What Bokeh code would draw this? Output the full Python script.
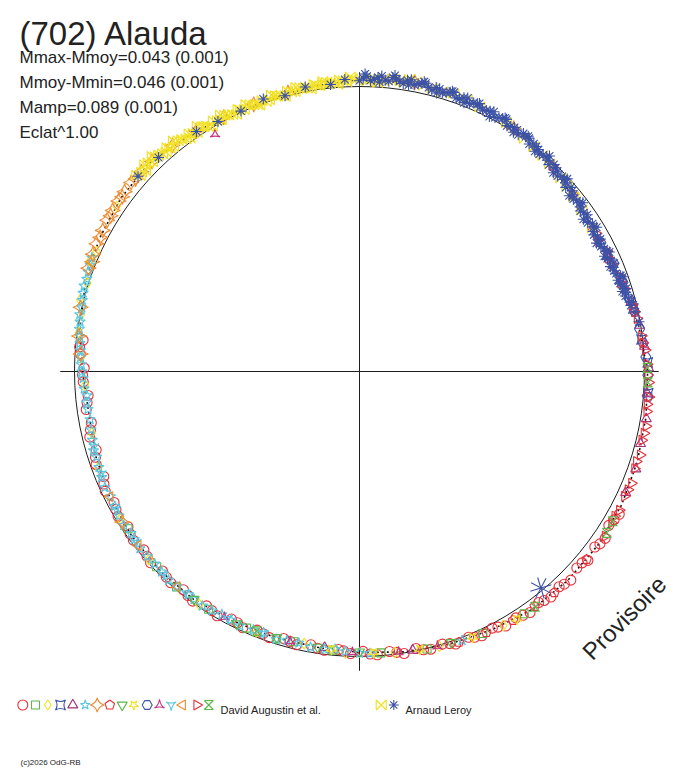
import numpy as np
from bokeh.plotting import figure
from bokeh.models import Range1d, Label
from bokeh.embed import file_html
from bokeh.resources import INLINE

# ---------------- texts ----------------
TITLE = "(702) Alauda"
STATS = ["Mmax-Mmoy=0.043 (0.001)", "Mmoy-Mmin=0.046 (0.001)",
         "Mamp=0.089 (0.001)", "Eclat^1.00"]
OBSERVER_1 = "David Augustin et al."
OBSERVER_2 = "Arnaud Leroy"
FOOTER = "(c)2026 OdG-RB"
WATERMARK = "Provisoire"

# ---------------- fitted curve (phase, relative magnitude) ----------------
fit_phase = [0.000, 0.025, 0.050, 0.075, 0.100, 0.125, 0.150, 0.175, 0.200, 0.225,
             0.250, 0.275, 0.300, 0.325, 0.350, 0.375, 0.400, 0.425, 0.450, 0.475,
             0.500, 0.525, 0.550, 0.575, 0.600, 0.625, 0.650, 0.675, 0.700, 0.725,
             0.750, 0.775, 0.800, 0.825, 0.850, 0.875, 0.900, 0.925, 0.950, 0.975]
fit_mag = [-0.025, -0.032, -0.025, -0.018, -0.004, 0.018, 0.035, 0.042, 0.028, 0.007,
           -0.011, -0.018, -0.025, -0.032, -0.035, -0.035, -0.032, -0.018, -0.007, 0.004,
           0.014, 0.021, 0.021, 0.018, 0.011, 0.011, 0.014, 0.018, 0.028, 0.039,
           0.028, 0.007, -0.011, -0.025, -0.035, -0.039, -0.021, -0.011, -0.007, -0.014]

# ---------------- observations: Arnaud Leroy ----------------
ley_yel_phase = [0.865, 0.868, 0.872, 0.876, 0.879, 0.883, 0.887, 0.890, 0.894, 0.898,
                 0.901, 0.905, 0.909, 0.912, 0.916, 0.920, 0.923, 0.927, 0.931, 0.934,
                 0.938, 0.942, 0.945, 0.949, 0.953, 0.956, 0.960, 0.964, 0.967, 0.971,
                 0.975, 0.978, 0.982, 0.986, 0.989, 0.993, 0.996,
                 0.004, 0.008, 0.013, 0.018, 0.024, 0.031, 0.040, 0.052, 0.068, 0.085,
                 0.098, 0.112, 0.128, 0.141,
                 0.866, 0.874, 0.881, 0.888, 0.896,
                 0.903, 0.910, 0.918, 0.925, 0.932, 0.940, 0.947, 0.954, 0.962, 0.969,
                 0.976, 0.984, 0.991, 0.998, 0.006, 0.015, 0.022, 0.035, 0.046, 0.060,
                 0.105, 0.118, 0.134, 0.150, 0.162,
                 0.870, 0.878, 0.885, 0.892, 0.900,
                 0.907, 0.914, 0.921, 0.929, 0.936, 0.943, 0.951, 0.958, 0.965, 0.973,
                 0.980, 0.988, 0.995, 0.010, 0.027]
ley_yel_mag = [-0.042, -0.036, -0.046, -0.034, -0.040, -0.030, -0.036, -0.024, -0.030, -0.018,
               -0.026, -0.014, -0.022, -0.010, -0.018, -0.008, -0.016, -0.006, -0.014, -0.004,
               -0.012, -0.002, -0.010, -0.004, -0.012, -0.006, -0.016, -0.008, -0.018, -0.010,
               -0.020, -0.012, -0.022, -0.016, -0.026, -0.018, -0.028,
               -0.020, -0.030, -0.024, -0.034, -0.028, -0.036, -0.026, -0.030, -0.020, -0.014,
               -0.002, 0.006, 0.020, 0.030,
               -0.032, -0.042, -0.036, -0.028, -0.026,
               -0.020, -0.018, -0.012, -0.010, -0.008, -0.006, -0.002, -0.008, -0.010, -0.014,
               -0.016, -0.018, -0.022, -0.024, -0.026, -0.028, -0.030, -0.030, -0.024, -0.026,
               0.002, 0.012, 0.024, 0.036, 0.040,
               -0.030, -0.048, -0.026, -0.040, -0.012,
               -0.032, -0.004, -0.024, 0.000, -0.018, 0.002, -0.018, 0.000, -0.022, -0.006,
               -0.026, -0.010, -0.034, -0.016, -0.040]
ley_blu_phase = [0.002, 0.006, 0.010, 0.014, 0.018, 0.022, 0.026, 0.030, 0.034, 0.038,
                 0.042, 0.046, 0.050, 0.054, 0.058, 0.062, 0.066, 0.070, 0.074, 0.078,
                 0.082, 0.086, 0.090, 0.094, 0.098, 0.102, 0.106, 0.110, 0.114, 0.118,
                 0.122, 0.126, 0.130, 0.134, 0.138, 0.142, 0.146, 0.150, 0.154, 0.158,
                 0.162, 0.166, 0.170, 0.174, 0.178, 0.182, 0.186, 0.190, 0.194, 0.198,
                 0.202, 0.206, 0.210,
                 0.000, 0.012, 0.024, 0.036, 0.048, 0.060, 0.072, 0.084, 0.096, 0.108,
                 0.120, 0.132, 0.144, 0.156, 0.168, 0.180, 0.192, 0.204, 0.216, 0.222,
                 0.865, 0.880, 0.905, 0.918, 0.932, 0.946, 0.958, 0.970, 0.984, 0.992,
                 0.004, 0.016, 0.028, 0.040, 0.052, 0.064, 0.076, 0.088, 0.100, 0.112,
                 0.124, 0.136, 0.148, 0.160, 0.172, 0.184, 0.196, 0.208, 0.008, 0.020,
                 0.032, 0.044, 0.056, 0.068, 0.080, 0.092, 0.104, 0.116, 0.128, 0.140,
                 0.152, 0.164, 0.176, 0.188, 0.200, 0.212,
                 0.003, 0.011, 0.019, 0.027, 0.035, 0.043, 0.051, 0.059, 0.067, 0.075,
                 0.083, 0.091, 0.099, 0.107, 0.115, 0.123, 0.131, 0.139, 0.147, 0.155,
                 0.163, 0.171, 0.179, 0.187, 0.195, 0.203]
ley_blu_mag = [-0.030, -0.022, -0.034, -0.026, -0.038, -0.028, -0.036, -0.024, -0.034, -0.026,
               -0.032, -0.020, -0.030, -0.018, -0.028, -0.016, -0.026, -0.014, -0.022, -0.010,
               -0.020, -0.006, -0.014, 0.000, -0.010, 0.004, -0.004, 0.010, 0.002, 0.016,
               0.008, 0.024, 0.014, 0.030, 0.020, 0.036, 0.026, 0.042, 0.030, 0.044,
               0.034, 0.048, 0.036, 0.046, 0.034, 0.044, 0.030, 0.040, 0.024, 0.034,
               0.020, 0.030, 0.014,
               -0.020, -0.040, -0.022, -0.038, -0.024, -0.032, -0.018, -0.024, -0.014, 0.000,
               0.004, 0.020, 0.030, 0.038, 0.040, 0.050, 0.036, 0.026, 0.010, 0.004,
               -0.036, -0.030, -0.018, -0.008, -0.004, -0.014, -0.002, -0.016, -0.012, -0.026,
               -0.036, -0.024, -0.040, -0.020, -0.034, -0.024, -0.026, -0.010, -0.012, 0.004,
               0.012, 0.016, 0.034, 0.032, 0.046, 0.036, 0.038, 0.022, -0.026, -0.034,
               -0.030, -0.030, -0.020, -0.020, -0.016, -0.012, -0.006, 0.006, 0.014, 0.028,
               0.036, 0.044, 0.040, 0.038, 0.028, 0.020,
               -0.044, -0.018, -0.046, -0.020, -0.042, -0.014, -0.036, -0.012, -0.030, -0.004,
               -0.026, 0.002, -0.016, 0.012, -0.008, 0.026, 0.006, 0.040, 0.018, 0.050,
               0.026, 0.054, 0.028, 0.046, 0.018, 0.036]
ley_big_phase = [0.389]
ley_big_mag = [0.009]

# ---------------- observations: David Augustin et al. (16 sessions) ----------------
s01_phase = [0.330, 0.338, 0.345, 0.352, 0.360, 0.367, 0.374, 0.381, 0.388, 0.395,
             0.402, 0.410, 0.417, 0.424, 0.431, 0.438, 0.446, 0.453, 0.460, 0.468,
             0.475, 0.483, 0.490, 0.498, 0.505, 0.512, 0.520, 0.528, 0.536, 0.544,
             0.552, 0.560, 0.568, 0.576, 0.584, 0.592, 0.600, 0.608, 0.616, 0.624,
             0.632, 0.640, 0.648, 0.656, 0.664, 0.672, 0.680, 0.688, 0.696, 0.704,
             0.712, 0.720, 0.728, 0.736, 0.744, 0.752, 0.760, 0.768,
             0.334, 0.349, 0.363, 0.378, 0.392, 0.406, 0.421, 0.435, 0.449, 0.464,
             0.479, 0.494, 0.509, 0.524, 0.540, 0.556, 0.572, 0.588, 0.604, 0.620,
             0.636, 0.652, 0.668, 0.684, 0.700, 0.716, 0.732, 0.748, 0.764]
s01_mag = [-0.040, -0.028, -0.042, -0.030, -0.040, -0.028, -0.042, -0.030, -0.038, -0.026,
           -0.036, -0.024, -0.030, -0.014, -0.022, -0.008, -0.014, 0.000, -0.006, 0.008,
           -0.002, 0.012, 0.004, 0.018, 0.010, 0.022, 0.014, 0.026, 0.016, 0.026,
           0.014, 0.024, 0.012, 0.022, 0.008, 0.018, 0.004, 0.016, 0.006, 0.016,
           0.006, 0.018, 0.010, 0.022, 0.012, 0.024, 0.014, 0.030, 0.020, 0.036,
           0.026, 0.042, 0.032, 0.044, 0.030, 0.034, 0.018, 0.024,
           -0.034, -0.038, -0.030, -0.036, -0.032, -0.030, -0.020, -0.016, -0.006, -0.002,
           0.006, 0.008, 0.018, 0.018, 0.022, 0.020, 0.020, 0.014, 0.010, 0.010,
           0.012, 0.014, 0.018, 0.020, 0.026, 0.034, 0.038, 0.028, 0.014]
s02_phase = [0.405, 0.430, 0.462, 0.488, 0.515, 0.538, 0.548, 0.566, 0.590, 0.612, 0.628, 0.655]
s02_mag = [-0.028, -0.016, -0.002, 0.010, 0.018, 0.024, 0.018, 0.016, 0.012, 0.008, 0.012, 0.018]
s03_phase = [0.418, 0.455, 0.480, 0.508, 0.532, 0.560, 0.596, 0.634, 0.662, 0.694,
             0.714, 0.742, 0.758, 0.772, 0.782, 0.790, 0.800, 0.812, 0.818, 0.845]
s03_mag = [-0.024, -0.004, 0.006, 0.012, 0.026, 0.018, 0.008, 0.010, 0.014, 0.024,
           0.036, 0.036, 0.022, 0.006, 0.002, -0.012, -0.004, -0.022, -0.014, -0.030]
s04_phase = [0.180, 0.196, 0.214, 0.232, 0.245, 0.262]
s04_mag = [0.040, 0.030, 0.014, 0.004, -0.012, -0.016]
s05_phase = [0.180, 0.196, 0.210, 0.224, 0.236, 0.248, 0.262, 0.276, 0.290, 0.304, 0.318, 0.470, 0.520]
s05_mag = [0.036, 0.024, 0.016, 0.004, -0.004, -0.014, -0.012, -0.020, -0.018, -0.028, -0.026, 0.004, 0.024]
s06_phase = [0.442, 0.494, 0.508, 0.520, 0.535, 0.548, 0.556, 0.570, 0.582, 0.594,
             0.604, 0.618, 0.630, 0.642, 0.652, 0.664, 0.676, 0.688, 0.700, 0.710,
             0.722, 0.732, 0.740, 0.750, 0.758, 0.766, 0.774, 0.782, 0.790, 0.798,
             0.806, 0.814,
             0.500, 0.514, 0.528, 0.542, 0.562, 0.576, 0.588, 0.600, 0.612, 0.624,
             0.636, 0.648, 0.658, 0.670, 0.682, 0.694, 0.704, 0.716, 0.728, 0.736,
             0.746, 0.754, 0.762, 0.770, 0.778, 0.786, 0.794, 0.802, 0.810]
s06_mag = [-0.010, 0.010, 0.016, 0.018, 0.024, 0.016, 0.024, 0.014, 0.020, 0.010,
           0.014, 0.008, 0.014, 0.010, 0.018, 0.016, 0.022, 0.022, 0.030, 0.032,
           0.040, 0.036, 0.032, 0.026, 0.020, 0.014, 0.006, -0.002, -0.004, -0.012,
           -0.014, -0.020,
           0.012, 0.022, 0.018, 0.022, 0.020, 0.018, 0.014, 0.012, 0.010, 0.012,
           0.012, 0.014, 0.012, 0.020, 0.018, 0.026, 0.026, 0.036, 0.038, 0.040,
           0.030, 0.024, 0.018, 0.010, 0.004, 0.000, -0.008, -0.010, -0.016]
s07_phase = [0.660, 0.760, 0.770, 0.786, 0.808, 0.816, 0.822, 0.830, 0.836, 0.842,
             0.848, 0.854, 0.860, 0.868, 0.876, 0.890, 0.905, 0.922, 0.940, 0.960,
             0.030, 0.090, 0.812, 0.826, 0.839, 0.851, 0.863]
s07_mag = [0.014, 0.020, 0.008, -0.004, -0.018, -0.022, -0.026, -0.028, -0.032, -0.034,
           -0.036, -0.038, -0.040, -0.038, -0.036, -0.030, -0.020, -0.012, -0.008, -0.010,
           -0.034, -0.010, -0.014, -0.024, -0.030, -0.034, -0.036]
s08_phase = [0.360, 0.385, 0.398, 0.412, 0.428, 0.444]
s08_mag = [-0.034, -0.034, -0.028, -0.026, -0.018, -0.012]
s09_phase = [0.448, 0.500, 0.524, 0.548, 0.572, 0.600]
s09_mag = [-0.004, 0.016, 0.022, 0.022, 0.016, 0.012]
s10_phase = [0.410, 0.436, 0.466, 0.492, 0.516, 0.980]
s10_mag = [-0.030, -0.014, 0.002, 0.012, 0.020, -0.016]
s11_phase = [0.172, 0.186, 0.198, 0.208, 0.216, 0.226, 0.234, 0.242, 0.252, 0.264]
s11_mag = [0.040, 0.030, 0.024, 0.020, 0.012, 0.006, 0.000, -0.006, -0.012, -0.016]
s12_phase = [0.456, 0.478, 0.504, 0.540, 0.580, 0.913]
s12_mag = [-0.002, 0.006, 0.014, 0.022, 0.016, 0.025]
s13_phase = [0.556, 0.578, 0.606, 0.622, 0.646, 0.668, 0.690, 0.706]
s13_mag = [0.020, 0.018, 0.012, 0.010, 0.014, 0.018, 0.026, 0.032]
s14_phase = [0.612, 0.644, 0.676, 0.020]
s14_mag = [0.010, 0.012, 0.020, -0.032]
s15_phase = [0.120, 0.140, 0.160, 0.170, 0.178, 0.186, 0.194, 0.202, 0.212, 0.220,
             0.230, 0.238, 0.246, 0.256, 0.264, 0.272, 0.280, 0.288, 0.296, 0.304,
             0.312, 0.320, 0.328, 0.336, 0.344,
             0.166, 0.182, 0.198, 0.216, 0.234, 0.252, 0.268, 0.284, 0.300, 0.316, 0.332]
s15_mag = [0.010, 0.026, 0.040, 0.044, 0.034, 0.036, 0.028, 0.024, 0.016, 0.008,
           0.002, -0.006, -0.010, -0.016, -0.020, -0.018, -0.024, -0.020, -0.028, -0.024,
           -0.032, -0.028, -0.034, -0.032, -0.038,
           0.038, 0.040, 0.032, 0.012, 0.000, -0.012, -0.016, -0.022, -0.022, -0.030, -0.030]
s16_phase = [0.248, 0.256, 0.335, 0.342, 0.398, 0.560]
s16_mag = [-0.010, -0.012, -0.032, -0.036, -0.030, 0.020]

# ---------------- styles ----------------
RED, GREEN, YEL, BLUE = "#e8303a", "#58b848", "#f2e020", "#3c52a6"
PURP, CYAN, ORNG, MAG = "#a2307e", "#58c6e0", "#f08a30", "#c23484"
INK = "#1e1e1e"

david = [
    (s01_phase, s01_mag, "circle", RED, 0.0, 10),
    (s02_phase, s02_mag, "square", GREEN, 0.0, 8),
    (s03_phase, s03_mag, "diamond", YEL, 0.0, 11),
    (s04_phase, s04_mag, "square_pin", BLUE, 0.0, 10),
    (s05_phase, s05_mag, "triangle", PURP, 0.0, 10),
    (s06_phase, s06_mag, "star", CYAN, 0.0, 11),
    (s07_phase, s07_mag, "square_pin", ORNG, np.pi / 4, 11),
    (s08_phase, s08_mag, "pentagon", RED, 0.0, 10),
    (s09_phase, s09_mag, "inverted_triangle", GREEN, 0.0, 10),
    (s10_phase, s10_mag, "star", YEL, np.pi, 11),
    (s11_phase, s11_mag, "hex", BLUE, 0.0, 10),
    (s12_phase, s12_mag, "triangle_pin", MAG, 0.0, 10),
    (s13_phase, s13_mag, "triangle_pin", CYAN, np.pi, 10),
    (s14_phase, s14_mag, "triangle", ORNG, np.pi / 2, 10),
    (s15_phase, s15_mag, "triangle", RED, -np.pi / 2, 10),
    (s16_phase, s16_mag, "hourglass", GREEN, 0.0, 9),
]
leroy = [
    (ley_yel_phase, ley_yel_mag, "bowtie", YEL, 0.0, 10),
    (ley_blu_phase, ley_blu_mag, "asterisk", BLUE, 0.0, 11),
]

# ---------------- geometry (pixel layout of the reference) ----------------
W, H = 688, 768
CX, CY, R = 359.0, 371.0, 285.0


def px(x):
    return (x - CX) / R


def py(y):
    return (CY - y) / R


def polar(phase, mag):
    ph = np.asarray(phase, dtype=float)
    r = 1.0 - np.asarray(mag, dtype=float)
    th = 2 * np.pi * ph
    return r * np.sin(th), r * np.cos(th)


p = figure(width=W, height=H, x_range=Range1d(px(0), px(W)),
           y_range=Range1d(py(H), py(0)), output_backend="svg",
           toolbar_location=None, x_axis_type=None, y_axis_type=None,
           min_border=0)
p.outline_line_color = None
p.background_fill_color = "white"
p.border_fill_color = "white"

# axes cross and reference circle
p.segment(x0=[-1.05, 0.0], y0=[0.0, -1.05], x1=[1.05, 0.0], y1=[0.0, 1.05],
          line_color=INK, line_width=1)
p.circle(x=[0.0], y=[0.0], radius=1.0, fill_color=None, line_color=INK, line_width=1)

# fitted curve (closed, dotted) below the observations
fx, fy = polar(fit_phase + fit_phase[:1], fit_mag + fit_mag[:1])
p.line(x=fx, y=fy, line_color="#111111", line_width=1.6, line_dash="2 3")


def shape_lines(xs, ys, kind, size):
    a = size / 2.0
    if kind == "bowtie":
        verts = [(-a, a), (a, -a), (a, a), (-a, -a), (-a, a)]
    elif kind == "hourglass":
        verts = [(-a, a), (a, a), (-a, -a), (a, -a), (-a, a)]
    else:  # pentagon
        ang = np.pi / 2 + 2 * np.pi * np.arange(6) / 5
        verts = list(zip(a * np.cos(ang), a * np.sin(ang)))
    LX = [[x + vx / R for vx, vy in verts] for x in xs]
    LY = [[y + vy / R for vx, vy in verts] for y in ys]
    return LX, LY


def draw(xs, ys, marker, color, angle, size, width=1.1):
    if marker in ("bowtie", "hourglass", "pentagon"):
        LX, LY = shape_lines(xs, ys, marker, size)
        p.multi_line(xs=LX, ys=LY, line_color=color, line_width=width)
    else:
        p.scatter(x=list(xs), y=list(ys), marker=marker, size=size, angle=angle,
                  fill_color=None, line_color=color, line_width=width)


for ph, mg, mk, col, ang, sz in david:
    x, y = polar(ph, mg)
    draw(x, y, mk, col, ang, sz)
for ph, mg, mk, col, ang, sz in leroy:
    x, y = polar(ph, mg)
    draw(x, y, mk, col, ang, sz)
bx, by = polar(ley_big_phase, ley_big_mag)
draw(bx, by, "asterisk", BLUE, 0.3, 22)

# ---------------- legend row ----------------
LEG_Y = 704.5
leg1_x = [22.3, 35.0, 47.3, 60.0, 72.3, 84.7, 96.7, 109.3, 121.7, 133.3,
          146.7, 159.0, 170.7, 182.0, 196.3, 208.3]
for lx, (ph, mg, mk, col, ang, sz) in zip(leg1_x, david):
    draw([px(lx)], [py(LEG_Y)], mk, col, ang, min(sz, 10))
leg2_x = [380.7, 393.3]
for lx, (ph, mg, mk, col, ang, sz) in zip(leg2_x, leroy):
    draw([px(lx)], [py(LEG_Y)], mk, col, ang, min(sz, 10))


def add_text(x, y, text, size, angle=0.0, color="#222222"):
    p.add_layout(Label(x=px(x), y=py(y), text=text, text_font="Liberation Sans",
                       text_font_size=f"{size}px", text_color=color,
                       text_baseline="alphabetic", text_align="left",
                       angle=angle, angle_units="deg"))


add_text(19, 33, TITLE, 33)
for i, s in enumerate(STATS):
    add_text(19, 57 + 25 * i, s, 17)
add_text(220, 709, OBSERVER_1, 11)
add_text(405, 709, OBSERVER_2, 11)
add_text(20, 762, FOOTER, 8)
add_text(586, 655, WATERMARK, 24, angle=45)

open("out.html", "w").write(file_html(p, INLINE))
